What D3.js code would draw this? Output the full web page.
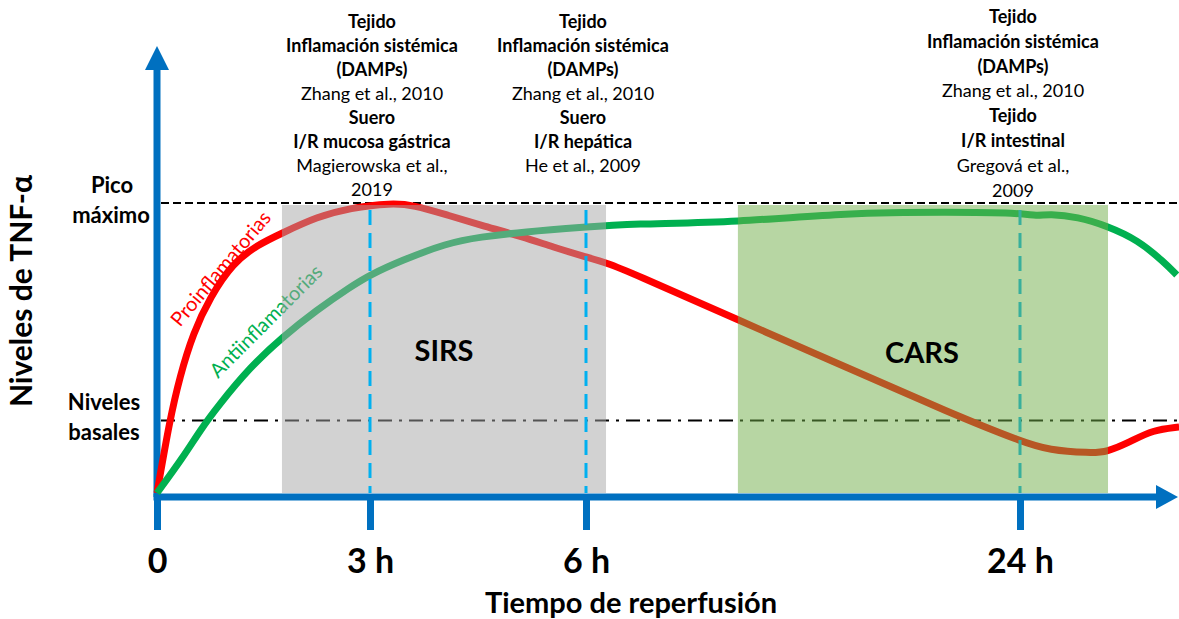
<!DOCTYPE html>
<html>
<head>
<meta charset="utf-8">
<script src="https://cdn.jsdelivr.net/npm/d3@7"></script>
<style>
  body { margin: 0; background: #fff; }
  svg { display: block; font-family: Lato, "Open Sans", sans-serif; }
</style>
</head>
<body>
<svg id="chart" width="1179" height="619"></svg>
<script>
// hours after reperfusion / relative TNF-a level (peak = 100)
const tickHours = [0, 3, 6, 24];
const tickLabels = ["0", "3 h", "6 h", "24 h"];

const proHours = [0, 0.18, 0.32, 0.51, 0.75, 1.07, 1.41, 1.77, 2.25, 2.72, 3.3, 3.6, 4.07, 4.53, 5.13, 5.54, 6,
  6.87, 7.82, 12.3, 16.95, 21.1, 24.1, 25.2, 26.9, 27.6, 28.56, 29.5, 30.6];
const proLevels = [0, 25.2, 40, 55.2, 67.6, 79.3, 85.5, 89.7, 95.2, 98.3, 100, 99.3, 95.9, 92.4, 88.3, 84.8, 81.4,
  79.3, 76.2, 59.7, 42.8, 27.6, 17.6, 14.8, 13.8, 14.1, 17.6, 21.7, 22.8];

const antiHours = [0, 0.37, 0.61, 0.85, 1.31, 1.77, 2.25, 2.72, 3, 3.42, 4.07, 4.53, 5.13, 6, 7.82, 12.3, 16.8,
  21.1, 24, 24.7, 25.2, 26.4, 27.6, 28.9, 29.96, 30.5];
const antiLevels = [0, 12.4, 21.7, 29.7, 43.4, 53.8, 63.1, 71, 75.2, 80, 86.2, 88.3, 90, 91.7, 92.8, 93.4, 96.6,
  96.9, 96.6, 95.5, 96.2, 95.2, 92.1, 87.2, 79.7, 75.2];

const peakLevel = 100;
const basalLevel = 25;

const phaseNames = ["SIRS", "CARS"];
const phaseStart = [1.76, 12.3];
const phaseEnd = [6.83, 27.65];

const markerHours = [3, 6, 24];

// annotation lines above each marker: [text, bold]
const notes3h = [["Tejido", 1], ["Inflamación sistémica", 1], ["(DAMPs)", 1], ["Zhang et al., 2010", 0],
  ["Suero", 1], ["I/R mucosa gástrica", 1], ["Magierowska et al.,", 0], ["2019", 0]];
const notes6h = [["Tejido", 1], ["Inflamación sistémica", 1], ["(DAMPs)", 1], ["Zhang et al., 2010", 0],
  ["Suero", 1], ["I/R hepática", 1], ["He et al., 2009", 0]];
const notes24h = [["Tejido", 1], ["Inflamación sistémica", 1], ["(DAMPs)", 1], ["Zhang et al., 2010", 0],
  ["Tejido", 1], ["I/R intestinal", 1], ["Gregová et al.,", 0], ["2009", 0]];

const svg = d3.select("#chart");
const blue = "#0070c0";

const x = d3.scaleLinear().domain([0, 3, 6, 24]).range([157, 370, 586, 1020]);
const y = d3.scaleLinear().domain([0, 100]).range([493, 203]);

// axes
const gx = svg.append("g").attr("transform", `translate(0,${y(0) + 4})`);
gx.call(d3.axisBottom(x).tickValues(tickHours).tickSize(33).tickPadding(19)
  .tickFormat((d, i) => tickLabels[i]));
gx.select(".domain").remove();
gx.selectAll(".tick line").attr("stroke", blue).attr("stroke-width", 7);
gx.selectAll(".tick text").attr("fill", "#000").attr("font-size", 34).attr("font-weight", "bold")
  .attr("font-family", "Lato, sans-serif");

svg.append("line").attr("x1", x(0) - 3.5).attr("x2", 1160).attr("y1", y(0) + 4).attr("y2", y(0) + 4)
  .attr("stroke", blue).attr("stroke-width", 7);
svg.append("path").attr("d", `M1156,${y(0) + 4 - 12}L1178,${y(0) + 4}L1156,${y(0) + 4 + 12}Z`).attr("fill", blue);
svg.append("line").attr("x1", x(0)).attr("x2", x(0)).attr("y1", y(0) + 4).attr("y2", 66)
  .attr("stroke", blue).attr("stroke-width", 7);
svg.append("path").attr("d", `M${x(0) - 12},70L${x(0)},46L${x(0) + 12},70Z`).attr("fill", blue);

// axis titles
svg.append("text").attr("x", 631).attr("y", 613).attr("text-anchor", "middle")
  .attr("font-size", 29).attr("font-weight", "bold").text("Tiempo de reperfusión");
svg.append("text").attr("transform", "translate(32,291) rotate(-90)").attr("text-anchor", "middle")
  .attr("font-size", 30).attr("font-weight", "bold").text("Niveles de TNF-α");

svg.append("text").attr("x", 112).attr("y", 193).attr("text-anchor", "middle")
  .attr("font-size", 22).attr("font-weight", "bold").text("Pico");
svg.append("text").attr("x", 111).attr("y", 223).attr("text-anchor", "middle")
  .attr("font-size", 22).attr("font-weight", "bold").text("máximo");
svg.append("text").attr("x", 104).attr("y", 410).attr("text-anchor", "middle")
  .attr("font-size", 22).attr("font-weight", "bold").text("Niveles");
svg.append("text").attr("x", 104).attr("y", 440).attr("text-anchor", "middle")
  .attr("font-size", 22).attr("font-weight", "bold").text("basales");

// reference levels
svg.append("line").attr("x1", x(0) + 4).attr("x2", 1179).attr("y1", y(peakLevel)).attr("y2", y(peakLevel))
  .attr("stroke", "#000").attr("stroke-width", 2).attr("stroke-dasharray", "8 4");
svg.append("line").attr("x1", x(0) + 4).attr("x2", 1179).attr("y1", y(basalLevel)).attr("y2", y(basalLevel))
  .attr("stroke", "#000").attr("stroke-width", 2).attr("stroke-dasharray", "14 7 3 7");

// curves
const line = d3.line().x(d => x(d[0])).y(d => y(d[1])).curve(d3.curveBasis);
svg.append("path").datum(d3.zip(proHours, proLevels)).attr("d", line)
  .attr("fill", "none").attr("stroke", "#ff0000").attr("stroke-width", 7);
svg.append("path").datum(d3.zip(antiHours, antiLevels)).attr("d", line)
  .attr("fill", "none").attr("stroke", "#00b050").attr("stroke-width", 7);

svg.append("text").attr("transform", "translate(226,273) rotate(-50)").attr("text-anchor", "middle")
  .attr("font-size", 20).attr("fill", "#ff0000").text("Proinflamatorias");
svg.append("text").attr("transform", "translate(271,326) rotate(-45)").attr("text-anchor", "middle")
  .attr("font-size", 20).attr("fill", "#00b050").text("Antiinflamatorias");

// 24 h marker sits below the CARS shading
const markTop = y(97.6);
function marker(h) {
  svg.append("line").attr("x1", x(h)).attr("x2", x(h)).attr("y1", markTop).attr("y2", y(0))
    .attr("stroke", "#00b0f0").attr("stroke-width", 3).attr("stroke-dasharray", "15 8");
}
marker(markerHours[2]);

// phase shading
const phaseFill = ["#a5a5a5", "#70ad47"];
phaseNames.forEach((name, i) => {
  svg.append("rect").attr("x", x(phaseStart[i])).attr("y", y(99.3))
    .attr("width", x(phaseEnd[i]) - x(phaseStart[i])).attr("height", y(0) - y(99.3))
    .attr("fill", phaseFill[i]).attr("fill-opacity", 0.5);
});
marker(markerHours[0]);
marker(markerHours[1]);

svg.append("text").attr("x", 444).attr("y", 361).attr("text-anchor", "middle")
  .attr("font-size", 29).attr("font-weight", "bold").text(phaseNames[0]);
svg.append("text").attr("x", 922).attr("y", 363).attr("text-anchor", "middle")
  .attr("font-size", 29).attr("font-weight", "bold").text(phaseNames[1]);

// annotations
function notes(lines, cx, top, step) {
  lines.forEach((l, i) => {
    svg.append("text").attr("x", cx).attr("y", top + i * step).attr("text-anchor", "middle")
      .attr("font-size", 18).attr("font-weight", l[1] ? "bold" : "normal").attr("fill", "#000").text(l[0]);
  });
}
notes(notes3h, x(3) + 2, 28, 24);
notes(notes6h, x(6) - 3, 28, 24);
notes(notes24h, x(24) - 7, 23, 24.8);
</script>
</body>
</html>
